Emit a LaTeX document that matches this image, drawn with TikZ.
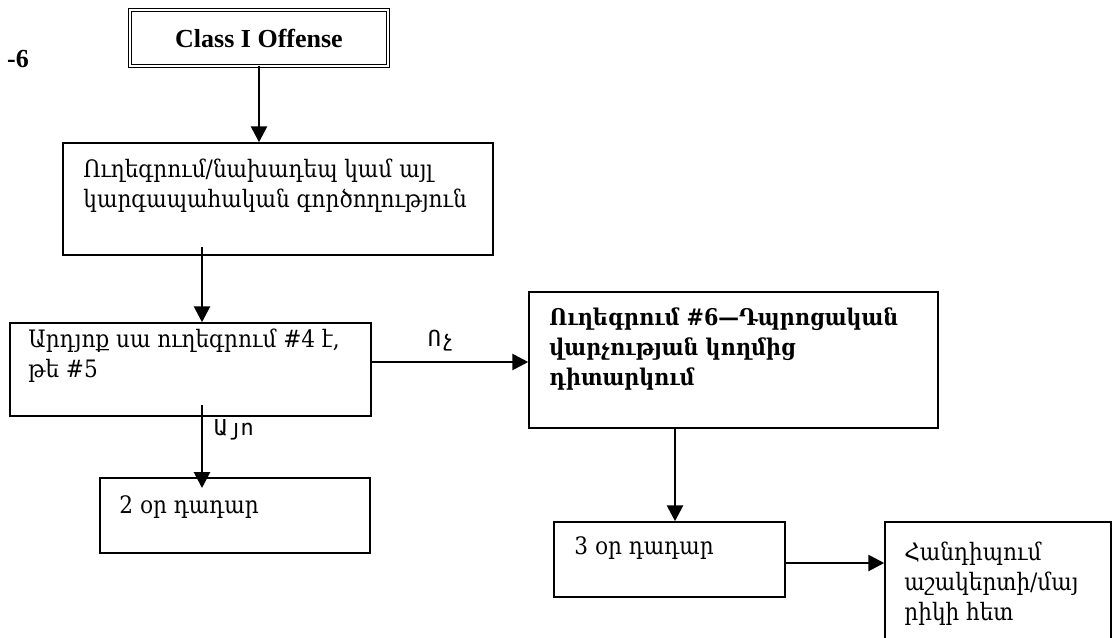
\documentclass[tikz,border=0pt]{standalone}
\usepackage{fontspec}
\setmainfont{DejaVu Serif Condensed}
\newfontfamily\latinserif{Liberation Serif}
\newfontfamily\labelmono{DejaVu Sans Mono}
\usetikzlibrary{arrows.meta, positioning}

\begin{document}
\begin{tikzpicture}[x=1pt, y=-1pt,
    box/.style={draw, line width=1.5pt, inner sep=0pt},
    txt/.style={anchor=base west, align=left, inner sep=0pt, font=\fontsize{24}{30}\selectfont},
    arr/.style={line width=2.8pt, -{Triangle[length=16pt, width=16pt]}},
    yesno/.style={inner sep=0pt, font=\labelmono\fontsize{22}{22}\selectfont}]

    \useasboundingbox (0,0) rectangle (1115,637);

    % Title
    \node[anchor=base east, inner sep=0pt, font=\latinserif\bfseries\fontsize{26}{30}\selectfont] (fig) at (29,67) {-6};
    \node[draw, double, double distance=2pt, line width=1.2pt, minimum width=257.6pt, minimum height=55.6pt,
        font=\latinserif\bfseries\fontsize{26}{30}\selectfont] (offense) at (259,38) {Class I Offense};

    % Boxes
    \node[box, minimum width=430pt, minimum height=112pt] (aktion) at (278,199) {};
    \node[box, minimum width=361pt, minimum height=93pt] (check) at (190.5,369.5) {};
    \node[box, minimum width=409pt, minimum height=136pt] (referral) at (733.5,360) {};
    \node[box, minimum width=270pt, minimum height=75pt] (twodays) at (235,515.5) {};
    \node[box, minimum width=231pt, minimum height=75pt] (threedays) at (669.5,559.5) {};
    \node[box, minimum width=226pt, minimum height=128pt] (meeting) at (998,586) {};

    % Texts (base = last line)
    \node[txt] (aktiontxt) at ([shift={(21,65)}]aktion.north west) {Ուղեգրում/նախադեպ կամ այլ\\կարգապահական գործողություն};
    \node[txt] (checktxt) at ([shift={(19,55)}]check.north west) {Արդյոք սա ուղեգրում \#4 է,\\թե \#5};
    \node[txt, font=\bfseries\fontsize{23}{30}\selectfont] (referraltxt) at ([shift={(21,94)}]referral.north west) {Ուղեգրում \#6—Դպրոցական\\վարչության կողմից\\դիտարկում};
    \node[txt] (twodaystxt) at ([shift={(20,36)}]twodays.north west) {2 օր դադար};
    \node[txt] (threedaystxt) at ([shift={(21,33)}]threedays.north west) {3 օր դադար};
    \node[txt] (meetingtxt) at ([shift={(20,99)}]meeting.north west) {Հանդիպում\\աշակերտի/մայ\\րիկի հետ};

    % Connectors
    \coordinate (fromaktion) at (202,247);
    \coordinate (fromcheck) at (202,405);
    \coordinate (intotwodays) at (202,488);
    \draw[arr] (offense.south) -- (offense.south |- aktion.north);
    \draw[arr] (fromaktion) -- (fromaktion |- check.north);
    \draw[arr] (check.east |- 0,362) -- (referral.west |- 0,362);
    \draw[arr] (fromcheck) -- (intotwodays);
    \draw[arr] (675,0 |- referral.south) -- (675,0 |- threedays.north);
    \draw[arr] (threedays.east |- 0,563) -- (meeting.west |- 0,563);

    % Labels
    \node[yesno] (no) at (441,341) {Ոչ};
    \node[yesno] (yes) at (234,430) {Այո};
\end{tikzpicture}
\end{document}
